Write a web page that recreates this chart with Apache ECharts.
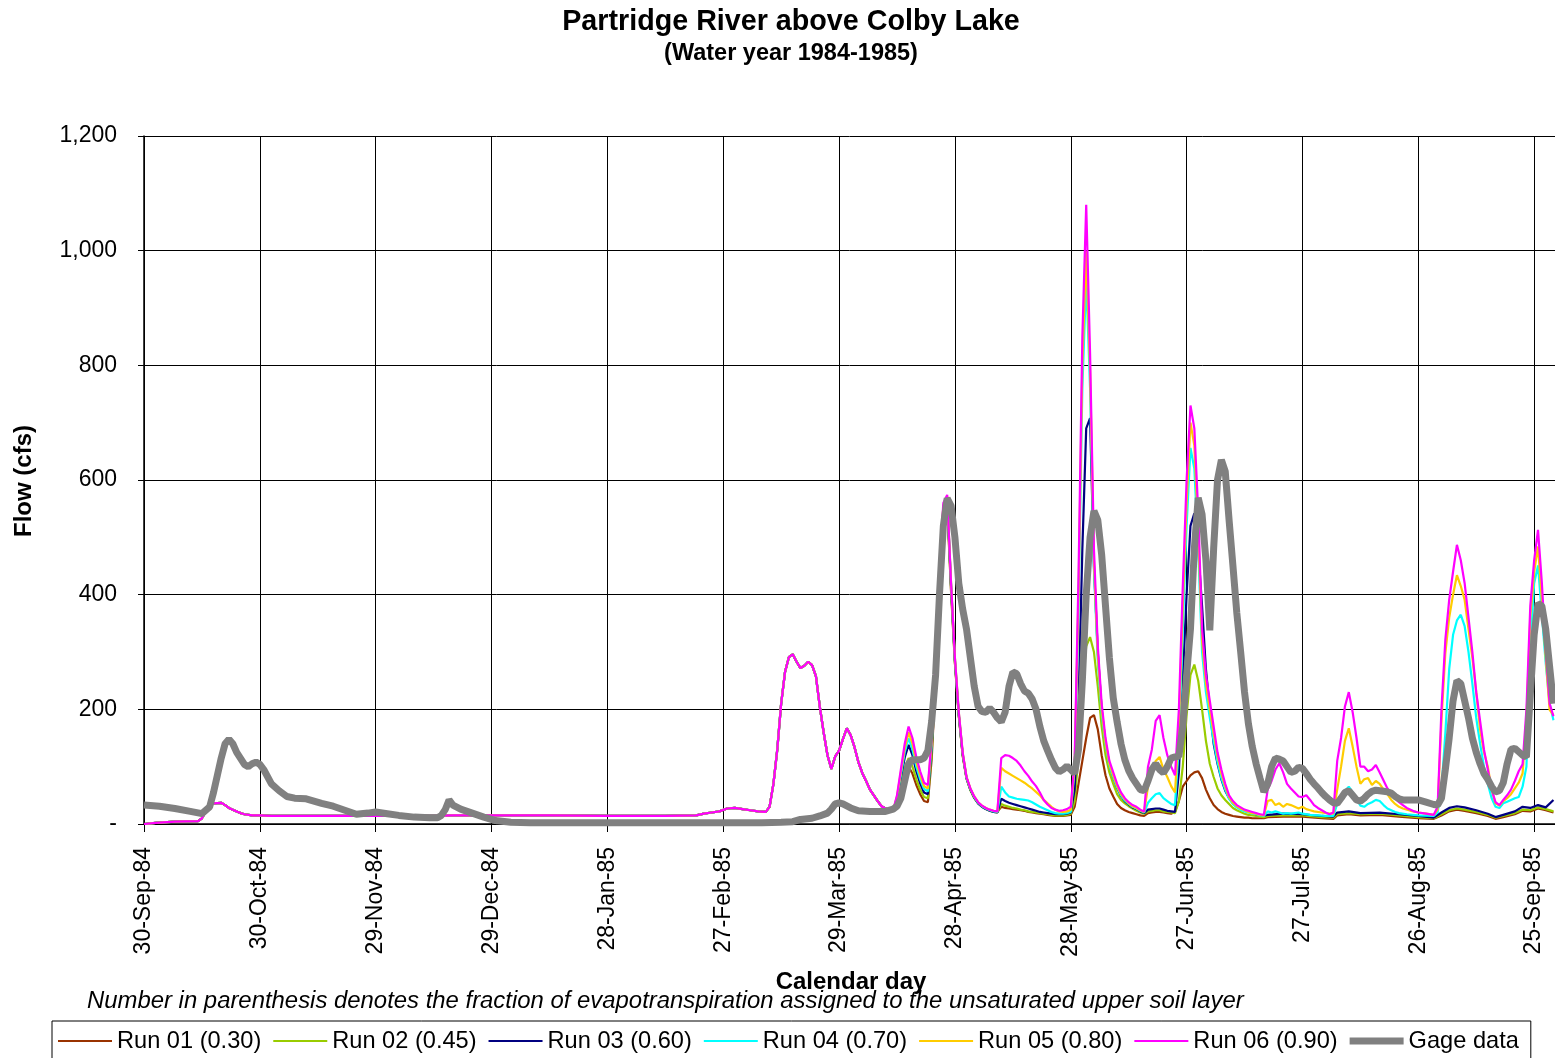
<!DOCTYPE html>
<html>
<head>
<meta charset="utf-8">
<script src="https://cdn.jsdelivr.net/npm/echarts@6/dist/echarts.min.js"></script>
<style>
  html, body { margin: 0; padding: 0; background: #ffffff; }
  #chart { width: 1555px; height: 1058px; }
</style>
</head>
<body>
<div id="chart"></div>
<script>
// Daily flow, Partridge River above Colby Lake, water year 1984-1985.
// x = days after 30-Sep-1984, y = flow in cfs.

// Observed gage flow
const gageFlow = [
  [0,33],[4,31],[8,27],[12,22],[15,18],[17,30],[18,55],[19,85],[20,115],[21,140],[22,148],[23,140],[24,125],[26,104],[27,100],[28,105],[29,108],[30,104],[31,95],[33,70],[35,58],[37,48],[39,45],[42,44],[44,40],[46,36],[49,31],[52,24],[55,17],[58,19],[60,21],[63,18],[66,15],[70,12],[74,11],[76,11],[77,15],[78,25],[79,42],[80,33],[82,26],[85,19],[88,12],[91,6],[95,3],[100,2],[120,2],[140,2],[160,2],[165,3],[168,4],[170,8],[173,10],[175,14],[177,19],[178,26],[179,35],[180,37],[181,35],[183,28],[185,23],[188,22],[192,22],[194,26],[195,31],[196,45],[197,75],[198,105],[199,112],[201,112],[202,115],[203,128],[204,180],[205,260],[206,400],[207,520],[208,568],[209,555],[210,500],[211,420],[212,375],[213,340],[214,290],[215,240],[216,205],[217,196],[218,195],[219,202],[220,195],[221,185],[222,178],[223,195],[224,240],[225,265],[226,262],[227,245],[228,232],[229,228],[230,218],[231,200],[232,170],[233,145],[234,128],[235,112],[236,98],[237,91],[238,95],[239,101],[240,95],[241,88],[242,130],[243,250],[244,400],[245,500],[246,546],[247,530],[248,470],[249,380],[250,290],[251,220],[252,178],[253,140],[254,112],[255,93],[256,80],[257,70],[258,60],[259,58],[260,75],[261,95],[262,105],[263,95],[264,89],[265,100],[266,115],[267,117],[268,118],[269,170],[270,260],[271,340],[272,480],[273,569],[274,540],[275,460],[276,338],[277,480],[278,600],[279,635],[280,615],[281,530],[282,450],[283,368],[284,300],[285,230],[286,175],[287,135],[288,105],[289,80],[290,56],[291,70],[292,100],[293,115],[294,113],[295,110],[296,100],[297,90],[298,92],[299,99],[300,97],[301,88],[302,78],[303,70],[304,63],[305,55],[306,48],[307,42],[308,37],[309,36],[310,45],[311,55],[312,58],[313,50],[314,42],[315,40],[316,45],[317,52],[318,57],[319,59],[320,58],[321,57],[322,56],[323,54],[324,48],[325,44],[326,42],[328,42],[330,42],[332,38],[334,34],[335,33],[336,45],[337,95],[338,150],[339,215],[340,250],[341,245],[342,215],[343,185],[344,150],[345,125],[346,105],[347,88],[348,78],[349,65],[350,56],[351,58],[352,72],[353,105],[354,130],[355,132],[356,126],[357,120],[358,117],[359,225],[360,330],[361,385],[362,380],[363,340],[364,275],[365,210]
];

// Simulated flow, identical for every run through mid-April
const simShared = [
  [0,0],[3,2],[8,4],[14,5],[15,10],[16,22],[17,32],[18,36],[20,37],[21,33],[22,28],[24,22],[25,19],[26,17],[28,15],[30,15],[33,14],[45,14],[60,14],[75,14],[80,15],[90,15],[105,15],[120,14],[135,14],[143,15],[145,18],[147,20],[149,22],[151,27],[153,28],[155,26],[157,24],[159,22],[161,21],[162,30],[163,70],[164,130],[165,210],[166,265],[167,291],[168,296],[169,283],[170,272],[171,276],[172,283],[173,277],[174,258],[175,205],[176,160],[177,120],[178,96],[179,118],[180,128],[181,148],[182,167],[183,155],[184,134],[185,108],[186,89],[187,75],[188,60],[189,50],[190,40],[191,31],[192,27],[193,25],[194,24]
];

// Run 01 (ET fraction 0.30)
const run01 = [
  [195,36],[196,60],[197,84],[198,100],[199,88],[200,68],[201,52],[202,40],[203,38],[204,115],[205,255],[206,415],[207,525],[208,555],[209,405],[210,280],[211,190],[212,120],[213,80],[214,60],[215,46],[216,37],[217,31],[218,27],[219,24],[220,22],[221,21],[222,30],[223,28],[224,27],[225,26],[226,25],[227,24],[228,23],[229,21],[230,20],[231,19],[232,18],[233,17],[234,16],[235,15],[236,14],[237,14],[238,14],[239,15],[240,16],[241,30],[242,70],[243,110],[244,150],[245,185],[246,190],[247,165],[248,120],[249,85],[250,62],[251,48],[252,35],[253,28],[254,24],[255,21],[256,19],[257,17],[258,15],[259,14],[260,19],[261,20],[262,21],[263,21],[264,20],[265,19],[266,18],[267,22],[268,40],[269,65],[270,75],[271,85],[272,90],[273,92],[274,80],[275,60],[276,45],[277,33],[278,26],[279,21],[280,18],[281,16],[282,14],[283,13],[284,12],[285,11],[286,11],[287,10],[288,10],[290,10],[291,12],[295,13],[300,13],[305,10],[308,9],[309,15],[312,17],[315,15],[320,16],[325,13],[330,10],[334,9],[336,15],[338,22],[340,25],[342,23],[345,19],[348,14],[350,9],[352,12],[355,17],[357,23],[359,22],[361,27],[363,24],[365,20]
];

// Run 02 (ET fraction 0.45)
const run02 = [
  [195,40],[196,70],[197,98],[198,115],[199,100],[200,78],[201,60],[202,47],[203,45],[204,125],[205,265],[206,425],[207,535],[208,560],[209,410],[210,282],[211,188],[212,120],[213,79],[214,59],[215,45],[216,36],[217,30],[218,26],[219,23],[220,21],[221,20],[222,35],[223,32],[224,30],[225,28],[226,27],[227,25],[228,24],[229,22],[230,21],[231,20],[232,19],[233,18],[234,17],[235,16],[236,15],[237,15],[238,15],[239,16],[240,18],[241,40],[242,120],[243,240],[244,310],[245,326],[246,300],[247,240],[248,170],[249,120],[250,90],[251,70],[252,52],[253,42],[254,36],[255,31],[256,27],[257,23],[258,20],[259,18],[260,22],[261,23],[262,24],[263,24],[264,22],[265,21],[266,20],[267,19],[268,40],[269,100],[270,190],[271,260],[272,278],[273,250],[274,200],[275,145],[276,105],[277,82],[278,62],[279,50],[280,42],[281,35],[282,28],[283,24],[284,21],[285,18],[286,16],[287,15],[288,14],[289,13],[290,12],[291,14],[295,15],[300,15],[305,12],[308,11],[309,17],[312,19],[315,17],[320,18],[325,15],[330,12],[334,10],[336,17],[338,24],[340,27],[342,25],[345,21],[348,16],[350,11],[352,14],[355,19],[357,25],[359,24],[361,29],[363,26],[365,22]
];

// Run 03 (ET fraction 0.60)
const run03 = [
  [195,44],[196,80],[197,116],[198,138],[199,120],[200,92],[201,71],[202,55],[203,52],[204,135],[205,275],[206,435],[207,545],[208,566],[209,415],[210,285],[211,190],[212,122],[213,80],[214,60],[215,46],[216,36],[217,30],[218,26],[219,23],[220,21],[221,20],[222,44],[223,40],[224,37],[225,35],[226,33],[227,31],[228,29],[229,27],[230,25],[231,23],[232,21],[233,20],[234,19],[235,18],[236,17],[237,17],[238,17],[239,18],[240,20],[241,60],[242,200],[243,480],[244,690],[245,708],[246,450],[247,300],[248,200],[249,142],[250,104],[251,82],[252,63],[253,49],[254,40],[255,34],[256,29],[257,26],[258,22],[259,19],[260,25],[261,26],[262,27],[263,27],[264,25],[265,23],[266,22],[267,21],[268,90],[269,250],[270,400],[271,520],[272,542],[273,480],[274,380],[275,270],[276,200],[277,140],[278,105],[279,78],[280,58],[281,45],[282,36],[283,30],[284,26],[285,23],[286,21],[287,19],[288,17],[289,16],[290,15],[291,16],[295,18],[300,17],[305,14],[308,13],[309,20],[312,22],[315,19],[320,20],[325,17],[330,14],[334,11],[336,20],[338,28],[340,31],[342,29],[345,24],[348,18],[350,12],[352,16],[355,22],[357,30],[359,28],[361,33],[363,29],[365,42]
];

// Run 04 (ET fraction 0.70)
const run04 = [
  [195,46],[196,85],[197,125],[198,150],[199,130],[200,100],[201,78],[202,61],[203,57],[204,140],[205,280],[206,440],[207,550],[208,570],[209,418],[210,288],[211,193],[212,124],[213,81],[214,61],[215,47],[216,37],[217,31],[218,27],[219,24],[220,22],[221,21],[222,65],[223,55],[224,48],[225,46],[226,44],[227,43],[228,42],[229,41],[230,38],[231,34],[232,30],[233,27],[234,24],[235,21],[236,19],[237,18],[238,18],[239,19],[240,21],[241,95],[242,380],[243,760],[244,950],[245,760],[246,445],[247,285],[248,192],[249,138],[250,102],[251,82],[252,64],[253,50],[254,41],[255,35],[256,30],[257,27],[258,23],[259,20],[260,37],[261,45],[262,52],[263,54],[264,45],[265,40],[266,35],[267,33],[268,140],[269,340],[270,520],[271,656],[272,620],[273,480],[274,300],[275,230],[276,185],[277,145],[278,108],[279,80],[280,60],[281,44],[282,35],[283,29],[284,25],[285,22],[286,20],[287,18],[288,17],[289,15],[290,14],[291,22],[292,20],[293,22],[294,20],[295,18],[296,19],[297,18],[298,19],[299,20],[300,18],[302,16],[304,15],[306,14],[308,14],[309,35],[310,48],[311,58],[312,65],[313,55],[314,45],[315,32],[316,30],[317,35],[318,38],[319,42],[320,40],[321,33],[322,27],[323,24],[324,21],[325,19],[327,17],[330,15],[334,14],[335,20],[336,60],[337,158],[338,270],[339,330],[340,355],[341,365],[342,345],[343,300],[344,245],[345,185],[346,140],[347,100],[348,70],[349,45],[350,30],[351,28],[352,36],[353,39],[354,42],[355,45],[356,47],[357,65],[358,100],[359,303],[360,420],[361,451],[362,365],[363,280],[364,210],[365,181]
];

// Run 05 (ET fraction 0.80)
const run05 = [
  [195,48],[196,90],[197,132],[198,160],[199,140],[200,108],[201,85],[202,66],[203,62],[204,145],[205,285],[206,445],[207,555],[208,572],[209,420],[210,290],[211,195],[212,125],[213,82],[214,62],[215,48],[216,38],[217,32],[218,28],[219,25],[220,23],[221,22],[222,98],[223,92],[224,88],[225,84],[226,80],[227,76],[228,72],[229,67],[230,62],[231,56],[232,50],[233,42],[234,36],[235,30],[236,25],[237,22],[238,21],[239,22],[240,25],[241,100],[242,400],[243,800],[244,1000],[245,790],[246,460],[247,295],[248,200],[249,142],[250,105],[251,85],[252,66],[253,52],[254,43],[255,36],[256,31],[257,28],[258,24],[259,21],[260,65],[261,90],[262,110],[263,117],[264,95],[265,82],[266,66],[267,55],[268,170],[269,380],[270,560],[271,700],[272,660],[273,510],[274,320],[275,245],[276,200],[277,158],[278,118],[279,88],[280,65],[281,47],[282,37],[283,31],[284,27],[285,24],[286,21],[287,19],[288,18],[289,16],[290,15],[291,40],[292,42],[293,33],[294,36],[295,30],[296,35],[297,33],[298,30],[299,27],[300,30],[301,26],[302,24],[303,22],[305,20],[307,18],[308,18],[309,60],[310,100],[311,145],[312,167],[313,135],[314,100],[315,70],[316,78],[317,80],[318,68],[319,75],[320,70],[321,60],[322,52],[323,42],[324,35],[325,30],[326,27],[328,23],[330,20],[332,18],[334,16],[335,25],[336,180],[337,298],[338,360],[339,400],[340,434],[341,415],[342,391],[343,340],[344,290],[345,230],[346,165],[347,125],[348,100],[349,60],[350,36],[351,32],[352,40],[353,45],[354,52],[355,62],[356,72],[357,88],[358,180],[359,361],[360,440],[361,484],[362,391],[363,290],[364,199],[365,190]
];

// Run 06 (ET fraction 0.90)
const run06 = [
  [195,50],[196,95],[197,140],[198,170],[199,150],[200,117],[201,92],[202,72],[203,68],[204,150],[205,290],[206,450],[207,560],[208,574],[209,420],[210,290],[211,195],[212,125],[213,82],[214,62],[215,48],[216,38],[217,32],[218,28],[219,25],[220,23],[221,22],[222,115],[223,120],[224,119],[225,115],[226,110],[227,102],[228,92],[229,84],[230,74],[231,66],[232,55],[233,42],[234,34],[235,28],[236,25],[237,23],[238,24],[239,26],[240,30],[241,110],[242,430],[243,850],[244,1080],[245,820],[246,480],[247,310],[248,210],[249,150],[250,110],[251,90],[252,70],[253,55],[254,45],[255,38],[256,33],[257,30],[258,25],[259,22],[260,100],[261,130],[262,180],[263,190],[264,150],[265,120],[266,100],[267,85],[268,200],[269,413],[270,600],[271,730],[272,690],[273,545],[274,340],[275,260],[276,215],[277,170],[278,125],[279,95],[280,70],[281,50],[282,40],[283,33],[284,29],[285,25],[286,23],[287,21],[288,19],[289,17],[290,16],[291,60],[292,75],[293,95],[294,106],[295,90],[296,70],[297,62],[298,55],[299,48],[300,47],[301,50],[302,42],[303,33],[304,28],[305,24],[306,20],[307,17],[308,20],[309,110],[310,150],[311,205],[312,230],[313,195],[314,150],[315,100],[316,100],[317,92],[318,95],[319,103],[320,90],[321,76],[322,62],[323,52],[324,44],[325,38],[326,33],[327,28],[328,25],[329,22],[330,20],[332,18],[334,16],[335,30],[336,200],[337,321],[338,391],[339,440],[340,487],[341,460],[342,420],[343,360],[344,300],[345,230],[346,180],[347,130],[348,95],[349,60],[350,38],[351,33],[352,42],[353,50],[354,60],[355,75],[356,92],[357,104],[358,200],[359,380],[360,460],[361,513],[362,420],[363,303],[364,210],[365,188]
];

const runNames = ['Run 01 (0.30)', 'Run 02 (0.45)', 'Run 03 (0.60)', 'Run 04 (0.70)', 'Run 05 (0.80)', 'Run 06 (0.90)'];
const runColors = ['#993300', '#99CC00', '#000080', '#00FFFF', '#FFCC00', '#FF00FF'];
const runData = [run01, run02, run03, run04, run05, run06];
const gageName = 'Gage data';
const gageColor = '#808080';

const yTicks = [0, 200, 400, 600, 800, 1000, 1200];
const MONTHS = ['Jan','Feb','Mar','Apr','May','Jun','Jul','Aug','Sep','Oct','Nov','Dec'];
const START = Date.UTC(1984, 8, 30);

const FONT = '"Liberation Sans", Arial, Helvetica, sans-serif';

function dayLabel(d) {
  const dt = new Date(START + Math.round(d) * 86400000);
  return dt.getUTCDate() + '-' + MONTHS[dt.getUTCMonth()] + '-' + String(dt.getUTCFullYear()).slice(2);
}
function flowLabel(v) {
  if (v === 0) return '-';
  return v.toLocaleString('en-US');
}

// Legend keys: plain line samples (thin for model runs, thick for the gage)
const thinKey = 'path://M0,0 L54,0 L54,2.2 L0,2.2 Z';
const thickKey = 'path://M0,0 L54,0 L54,7 L0,7 Z';

const chart = echarts.init(document.getElementById('chart'), null, { renderer: 'canvas' });

const series = runData.map((d, i) => ({
  type: 'line',
  name: runNames[i],
  data: simShared.concat(d),
  symbol: 'none',
  showSymbol: false,
  lineStyle: { width: 2.2, color: runColors[i] },
  itemStyle: { color: runColors[i] },
  emphasis: { disabled: true },
  z: 2 + i
}));
series.push({
  type: 'line',
  name: gageName,
  data: gageFlow,
  symbol: 'none',
  showSymbol: false,
  lineStyle: { width: 7, color: gageColor },
  itemStyle: { color: gageColor },
  emphasis: { disabled: true },
  z: 10
});

chart.setOption({
  animation: false,
  backgroundColor: '#ffffff',
  textStyle: { fontFamily: FONT },
  grid: { left: 144, top: 136, right: 0, bottom: 234 },
  xAxis: {
    type: 'value',
    min: 0,
    max: 365.4,
    interval: 30,
    axisLine: { show: true, lineStyle: { color: '#000', width: 1.5 } },
    axisTick: { show: true, length: 8, lineStyle: { color: '#000' } },
    splitLine: { show: true, lineStyle: { color: '#000', width: 1 } },
    axisLabel: {
      rotate: 90,
      margin: 23,
      fontSize: 23,
      color: '#000',
      fontFamily: FONT,
      showMaxLabel: false,
      formatter: dayLabel
    }
  },
  yAxis: {
    type: 'value',
    min: yTicks[0],
    max: yTicks[yTicks.length - 1],
    interval: 200,
    axisLine: { show: true, lineStyle: { color: '#000', width: 1.5 } },
    axisTick: { show: true, length: 6, lineStyle: { color: '#000' } },
    splitLine: { show: true, lineStyle: { color: '#000', width: 1 } },
    axisLabel: {
      margin: 27,
      fontSize: 23,
      color: '#000',
      fontFamily: FONT,
      formatter: flowLabel
    }
  },
  legend: {
    data: runNames.map((n, i) => ({ name: n, icon: thinKey, itemStyle: { color: runColors[i] } }))
      .concat([{ name: gageName, icon: thickKey, itemStyle: { color: gageColor } }]),
    left: 52,
    top: 1021,
    orient: 'horizontal',
    padding: [8, 12, 8, 6],
    itemGap: 12,
    itemWidth: 54,
    itemHeight: 14,
    symbolKeepAspect: true,
    borderColor: '#000',
    borderWidth: 1,
    backgroundColor: '#fff',
    textStyle: { fontSize: 23.6, color: '#000', fontFamily: FONT },
    selectedMode: false
  },
  graphic: [
    { type: 'text', x: 791, y: 22, silent: true,
      style: { text: 'Partridge River above Colby Lake', font: 'bold 28.7px ' + FONT, fill: '#000',
               align: 'center', verticalAlign: 'middle', textAlign: 'center', textVerticalAlign: 'middle' } },
    { type: 'text', x: 791, y: 54, silent: true,
      style: { text: '(Water year 1984-1985)', font: 'bold 23.5px ' + FONT, fill: '#000',
               align: 'center', verticalAlign: 'middle', textAlign: 'center', textVerticalAlign: 'middle' } },
    { type: 'text', x: 24, y: 481, rotation: Math.PI / 2, silent: true,
      style: { text: 'Flow (cfs)', font: 'bold 24px ' + FONT, fill: '#000',
               align: 'center', verticalAlign: 'middle', textAlign: 'center', textVerticalAlign: 'middle' } },
    { type: 'text', x: 851, y: 982, silent: true,
      style: { text: 'Calendar day', font: 'bold 24px ' + FONT, fill: '#000',
               align: 'center', verticalAlign: 'middle', textAlign: 'center', textVerticalAlign: 'middle' } },
    { type: 'text', x: 87, y: 1001, silent: true,
      style: { text: 'Number in parenthesis denotes the fraction of evapotranspiration assigned to the unsaturated upper soil layer',
               font: 'italic 23.9px ' + FONT, fill: '#000',
               align: 'left', verticalAlign: 'middle', textAlign: 'left', textVerticalAlign: 'middle' } }
  ],
  series: series
});
</script>
</body>
</html>
